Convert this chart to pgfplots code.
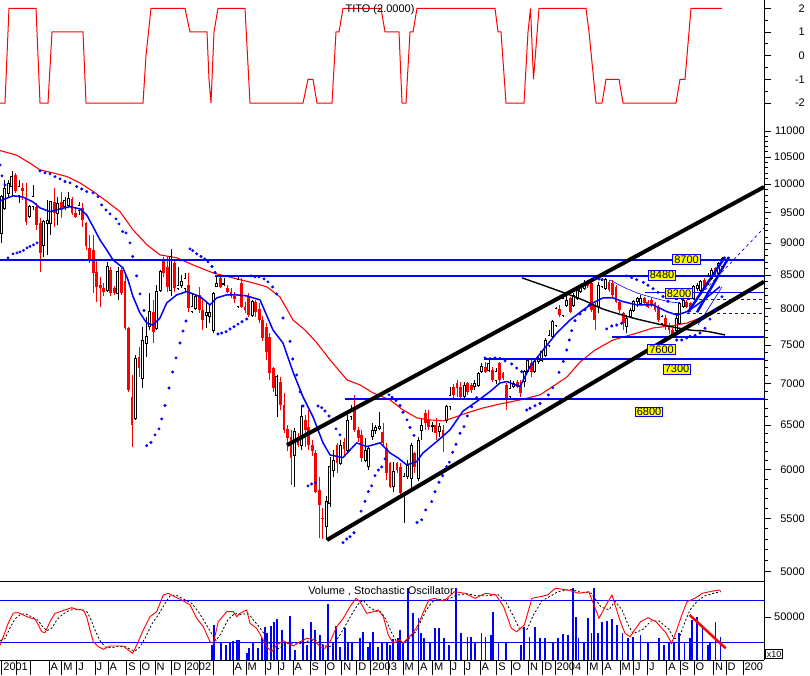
\documentclass[border=0pt]{standalone}
\usepackage{fontspec}
\setmainfont{Liberation Sans}
\usepackage{pgfplots}
\usepackage{pgfplotstable}
\pgfplotsset{compat=1.18}
\definecolor{pblue}{RGB}{0,0,255}
\definecolor{pred}{RGB}{255,0,0}
\definecolor{pyel}{RGB}{255,255,0}
\pgfplotsset{
  panel/.style={scale only axis, width=764pt, xmin=0, xmax=764,
    axis y line*=right, axis line style={black, line width=0.8pt},
    tick style={black, line width=0.8pt}, major tick length=7pt, minor tick length=4pt,
    tick align=outside, scaled y ticks=false,
    yticklabel style={font=\fontsize{11}{12}\selectfont, anchor=east, inner sep=0pt, xshift=34pt},
    /pgf/number format/assume math mode=true, /pgf/number format/1000 sep={}},
}
% up (hollow) weekly candles: week index, open, high, low, close
\pgfplotstableread{
i o h l c
0 9160 9810 9000 9780
1 9580 10080 9550 9930
2 9840 10080 9780 10020
3 9960 10230 9780 10140
5 9810 10080 9665 9960
8 9440 9640 9410 9610
9 9608 9988 9550 9781
12 8972 9382 8786 9354
13 9326 9723 8812 9382
14 9326 9700 9134 9694
16 9494 9781 9298 9665
18 9608 9781 9550 9723
19 9637 9869 9608 9752
22 9550 9694 9466 9637
30 8278 8708 8253 8630
33 8228 8630 8131 8553
38 6579 7367 6559 7324
40 7067 7751 6942 7569
41 7524 7893 7346 7614
42 7751 8228 7706 7962
44 7728 8352 7706 8253
45 8278 8579 8253 8553
48 8278 8902 8180 8786
50 8302 8630 8278 8352
51 8352 8500 8300 8400
52 8302 8528 8253 8452
54 7962 8228 7938 8034
55 8010 8204 7986 8180
58 7914 8106 7728 7948
59 7900 8050 7800 7960
60 7706 8253 7660 8228
61 8327 8502 8327 8377
63 8367 8460 8330 8380
67 8034 8502 8010 8428
71 7914 8130 7890 8106
78 6860 7110 6599 7088
83 6161 6462 5822 6424
85 6273 6738 6217 6607
92 5420 5719 5293 5668
93 5651 6143 5617 6034
94 5998 6217 5927 6106
96 6070 6329 6052 6272
98 6217 6618 6180 6560
99 6599 6738 6560 6658
103 6106 6348 6088 6217
104 6034 6254 5998 6236
105 6367 6521 6329 6443
106 6443 6500 6400 6470
107 6463 6658 6443 6482
111 5822 6088 5770 5980
114 5753 5962 5453 5927
115 5927 6100 5900 6050
116 5910 6291 5805 6273
118 5910 6367 5875 6329
119 6443 6579 6329 6502
122 6482 6540 6420 6500
124 6424 6521 6367 6482
126 6560 6738 6521 6718
127 6718 6963 6678 6860
131 6839 7025 6819 6983
134 6963 7046 6921 7004
135 6983 7152 6963 7131
136 7152 7259 7131 7216
138 7173 7303 7152 7259
140 7046 7200 7000 7150
144 6839 7046 6819 6942
145 6963 7030 6940 7004
148 7025 7173 6963 7151
149 7151 7330 7130 7303
151 7151 7325 7130 7281
152 7281 7350 7250 7320
153 7303 7434 7281 7412
154 7368 7590 7346 7569
155 7501 7705 7479 7636
156 7614 7844 7591 7821
157 7775 8033 7751 8009
159 7914 8179 7891 8155
160 8057 8204 8033 8130
162 8057 8228 8033 8204
163 8155 8326 8130 8277
164 8252 8350 8228 8326
165 8301 8426 8277 8376
169 8033 8400 7950 8351
170 8326 8450 8300 8426
171 8301 8452 8277 8437
177 7751 7914 7659 7867
178 7891 8009 7867 7986
179 7986 8130 7962 8106
180 8106 8179 8033 8155
181 8082 8200 8060 8155
187 7798 7914 7775 7891
191 7705 7914 7659 7867
192 7798 8106 7775 8082
193 8033 8155 8009 8130
196 8155 8350 8130 8326
197 8300 8380 8260 8350
198 8277 8426 8252 8401
200 8376 8527 8350 8502
201 8452 8604 8427 8578
203 8527 8707 8502 8681
204 8630 8785 8604 8759
}\upc
% down (red) weekly candles
\pgfplotstableread{
i o h l c
4 10170 10200 9840 9870
6 9930 10020 9720 9870
7 9750 10020 9300 9350
10 9608 9665 9215 9298
11 9326 9410 8553 8839
15 9694 9928 9270 9494
17 9694 9869 9410 9550
20 9740 9781 9466 9494
21 9494 9608 9410 9438
23 9579 9665 9270 9382
24 9326 9340 8892 8945
25 8918 9134 8682 8733
26 8892 9134 8228 8528
27 8553 8733 8106 8327
28 8352 8477 8034 8302
29 8302 8377 8180 8253
31 8579 8630 8180 8228
32 8302 8330 8200 8228
34 8579 8605 8204 8228
35 8404 8502 7706 7728
36 7728 7751 6900 6921
37 6839 7109 6254 6501
39 7346 7480 7088 7195
43 7962 8130 7524 7683
46 8733 8786 8477 8528
47 8630 8786 8253 8327
49 8682 8733 8253 8302
53 8352 8528 7962 8010
56 8204 8327 7938 7986
57 7986 8130 7706 7844
62 8452 8502 8302 8327
64 8302 8352 8228 8253
65 8253 8302 8155 8180
66 8180 8250 8080 8140
68 8377 8452 8010 8034
69 8034 8100 7940 7990
70 8180 8228 7890 7914
72 8106 8130 7890 7962
73 8000 8080 7800 7850
74 7850 7900 7550 7600
75 7750 7800 7303 7412
76 7613 7659 7046 7131
77 7195 7216 6900 6942
79 7025 7088 6678 6738
80 6738 6880 6405 6443
81 6450 6500 6200 6350
82 6367 6443 5840 6125
84 6367 6405 6254 6273
86 6560 6618 6254 6443
87 6482 6678 6217 6273
88 6270 6330 6150 6200
89 6180 6217 5753 5770
90 5787 5927 5308 5634
91 5500 5600 5300 5490
95 6272 6291 5962 6070
97 6300 6350 6150 6230
100 6678 6860 6424 6443
101 6440 6480 6300 6350
102 6386 6443 6088 6125
108 6424 6521 6254 6291
109 6236 6291 5892 5962
110 6070 6088 5805 5822
112 6070 6088 5962 5998
113 6034 6070 5736 5753
117 6180 6198 5962 6034
120 6638 6678 6443 6521
121 6560 6678 6443 6482
123 6502 6579 6329 6405
125 6443 6502 6198 6348
128 6963 7000 6820 6860
129 7004 7046 6839 6942
130 6963 7025 6799 6839
132 7004 7025 6860 6900
133 6983 7004 6880 6921
137 7216 7281 7131 7152
139 7173 7216 7025 7046
141 7259 7281 7025 7046
142 7130 7150 7046 7067
143 6983 7004 6678 6819
146 7025 7046 6940 6963
147 6983 7046 6839 6880
150 7259 7303 7088 7151
158 8000 8050 7890 7920
161 8155 8179 7938 7962
166 8376 8420 8300 8340
167 8376 8426 7962 7986
168 8057 8082 7705 7844
172 8401 8426 8250 8277
173 8376 8426 8155 8204
174 8326 8350 8082 8106
175 8100 8130 7950 7990
176 7938 7962 7705 7798
182 8155 8179 8057 8082
183 8106 8130 8009 8033
184 8130 8155 8033 8057
185 8082 8106 7962 7986
186 8033 8057 7821 7844
188 7867 7914 7705 7751
189 7751 7800 7650 7700
190 7705 7730 7600 7636
194 8106 8130 8009 8033
195 8082 8106 7962 7986
199 8426 8450 8300 8326
202 8604 8630 8477 8502
}\dnc
\pgfplotstableread{
x k
0 15.7
3.3 27.6
8.3 47.1
13.3 61.4
18.3 61.9
23.3 58.6
30 54.3
35 52.9
38.3 44.3
41.7 34.7
45 33.3
50 49
55 61
60 63.3
66.7 66.7
71.7 69
76.7 66.7
83.3 65.7
86.7 56.1
90 37.1
93.3 20.4
98.3 13.3
103.3 9.6
110 14.3
116.7 14.3
123.3 14.3
128.3 8.6
132.7 3.9
136.7 15.7
143.3 37.1
150 56.1
156.7 63.3
163.3 87.1
168.3 89.6
173.3 85.7
181.7 80
190 72.9
196.7 53.9
203.3 41.9
210 20.4
213.3 18.1
218.3 49
226.7 63.3
233.3 63.3
236.7 56.1
240 61
246.7 65.7
250 46.7
256.7 39.6
263.3 22.9
266.7 13.3
271.7 6.1
276.7 15.7
283.3 21.9
293.3 14.3
300 20.4
306.7 25.3
313.3 23.9
320 13.3
325 11
330 20.4
336.7 41.9
343.3 53.9
350 70.4
356 82.4
360 77.6
366.7 61
373.3 63.3
378.3 65.7
383.3 56.1
388.3 30
393.3 18.1
400 22.9
403 18.6
413 32.9
418 44.3
423.6 63.3
428.7 80
434 82.4
444 78.6
454.5 91.9
465 89.6
475 82.4
485.5 89.6
496 87.1
503.6 70.4
511.4 39.6
516.5 34.7
524.3 44.3
532 82.4
539.8 84.7
547.5 87.1
555.3 96.7
568 94.3
578.5 89.6
588.8 91.9
599 53.9
607 75.3
612 87.1
619.8 51.4
625 32.4
630 27.6
640.5 49
648 54.7
656 49
666.3 32.4
671.5 18.1
676.7 37.1
681.8 58.6
687 77.6
694.7 82.4
702.5 89.6
712.8 92.9
720.5 94.3
}\stochk
\pgfplotstableread{
x d
0 22
5 25
10 40
15 53
21 60
26 60
33 55
38 51
42 43
47 36
52 40
57 52
63 60
69 65
75 67
81 66
87 63
91 52
95 37
100 22
105 13
112 12
119 14
126 13
131 9
135 7
140 13
146 28
152 46
158 58
165 75
170 86
176 87
184 81
192 75
199 62
205 48
212 31
216 22
221 32
228 52
235 61
239 59
243 60
249 60
253 52
259 42
266 28
270 17
274 10
280 11
286 18
295 17
303 18
309 22
316 22
323 16
328 13
333 15
339 28
346 45
352 60
358 74
363 80
369 70
376 64
381 63
386 52
391 35
396 22
404 19
409 25
416 35
421 50
426 65
432 77
438 81
446 80
457 87
467 89
477 86
488 86
498 88
506 77
514 55
519 40
527 38
534 60
542 79
550 85
558 92
571 95
581 91
591 90
601 70
609 66
615 78
622 66
628 45
633 32
643 38
651 50
659 50
669 38
674 25
679 25
684 45
690 66
697 78
705 86
715 90
721 92
}\stochd
\pgfplotstableread{
x v
211.7 17442
214 40698
220.7 20116
225.7 17442
230 21279
233.3 22093
237.3 23256
239.3 23256
246.7 8488
249.3 13954
253.3 19419
258.3 13605
261.7 25233
265 38721
266.7 31048
270.7 39535
274.3 44535
277.3 47675
281.7 34884
285 19419
290 51163
295 11628
303.3 35698
306.7 17442
310.7 44535
315 34884
320 29070
322.7 17442
327.7 65117
333.3 19419
336 39535
340 15465
345 36861
348.3 21279
351.7 19419
360 25233
363.3 32907
367.7 15465
370 19419
373.3 32907
378.3 15465
381.7 21279
386.7 19419
390 17442
393.3 24070
398.3 25233
400.3 34884
403 21279
408 83372
413 54303
418.4 49186
421 31048
423.6 25233
430 21279
435 37559
439 37559
444 25233
449 17442
455.6 83372
461.3 31048
467.5 27093
471 27093
475.2 19419
481.4 31048
485.5 27093
490.7 29070
493.3 56163
498.5 21279
506 21279
520.7 17442
524.3 38721
529.4 27093
534.6 38721
539.8 25233
545 25233
552.7 21279
558 25233
563 29884
568.2 29070
573.3 83372
576 50349
578.5 25233
583.7 21279
587.8 49186
591.4 31048
594 84070
598 31048
601.8 44535
607 45349
612 47675
617.3 40698
622.4 31048
627.6 25233
632.7 27093
640.5 29070
648.2 19419
658.6 25233
663.7 17442
669 21279
674 21279
679.2 31048
684.4 21279
689.6 25233
692 46512
697.3 50349
702.5 40698
707.6 17442
710.2 21279
715.4 44535
720.5 27093
}\volume
\begin{document}
\begin{tikzpicture}[x=1pt,y=1pt]
\path[use as bounding box] (0,0) rectangle (810,675);
% ---------------- TITO panel
\begin{axis}[panel, at={(0pt,567pt)}, anchor=south west, height=108pt,
  ymin=-2.211, ymax=2.351, axis x line=none,
  ytick={-2,-1,0,1,2}, minor ytick={-1.5,-0.5,0.5,1.5}]
\addplot[pred, line width=1pt] coordinates {(0,-2) (5,-2) (9,2) (36,2) (40,-2) (48,-2) (52,1) (83,1) (86,-2) (143,-2) (146,0) (151,2) (185,2) (190,1) (207,1) (209,-1) (211,-2) (214,1) (218,2) (245,2) (250,-2) (303,-2) (308,-1) (313,-1) (317,-2) (332,-2) (336,1) (339,1) (343,2) (381,2) (385,1) (399,1) (402,-2) (406,-2) (410,1) (413,1) (417,2) (495,2) (498,1) (501,1) (506,-2) (524,-2) (528,1) (530.5,2) (533.5,-1) (539,2) (586,2) (589,1) (596,-2) (602,-2) (606,-1) (619,-1) (623,-2) (676,-2) (680,-1) (685,-1) (691,2) (722,2)};
\node[font=\fontsize{11}{12}\selectfont, inner sep=0pt] at (axis cs:380,1.93) {TITO (2.0000)};
\end{axis}
% ---------------- Price panel
\begin{axis}[panel, at={(0pt,94pt)}, anchor=south west, height=473pt,
  ymode=log, ymin=4917, ymax=11462, axis x line*=bottom, xtick=\empty,
  ytick={5000,5500,6000,6500,7000,7500,8000,8500,9000,9500,10000,10500,11000},
  yticklabels={5000,5500,6000,6500,7000,7500,8000,8500,9000,9500,10000,10500,11000},
  minor ytick={5100,5200,...,11000}]
% red candles: wicks and bodies
\addplot[draw=none, mark=none, forget plot, error bars/.cd, y dir=plus, y explicit, error mark=none,
  error bar style={pred, line width=0.7pt}]
  table[x expr={1.3+3.533*\thisrow{i}}, y=l, y error plus expr={\thisrow{h}-\thisrow{l}}] {\dnc};
\addplot[draw=none, mark=none, forget plot, error bars/.cd, y dir=plus, y explicit, error mark=none,
  error bar style={pred, line width=2.8pt}]
  table[x expr={1.3+3.533*\thisrow{i}}, y=c, y error plus expr={\thisrow{o}-\thisrow{c}}] {\dnc};
% hollow candles
\addplot[draw=none, mark=none, forget plot, error bars/.cd, y dir=plus, y explicit, error mark=none,
  error bar style={black, line width=0.7pt}]
  table[x expr={1.3+3.533*\thisrow{i}}, y=l, y error plus expr={\thisrow{h}-\thisrow{l}}] {\upc};
\addplot[draw=none, mark=none, forget plot, error bars/.cd, y dir=plus, y explicit, error mark=none,
  error bar style={black, line width=2.8pt}]
  table[x expr={1.3+3.533*\thisrow{i}}, y=o, y error plus expr={\thisrow{c}-\thisrow{o}}] {\upc};
\addplot[draw=none, mark=none, forget plot, error bars/.cd, y dir=plus, y explicit, error mark=none,
  error bar style={white, line width=1.2pt}]
  table[x expr={1.3+3.533*\thisrow{i}}, y=o, y error plus expr={\thisrow{c}-\thisrow{o}}] {\upc};
\addplot[only marks, mark=-, mark size=1.4pt, mark options={black, line width=0.6pt}]
  table[x expr={1.3+3.533*\thisrow{i}}, y=o] {\upc};
\addplot[only marks, mark=-, mark size=1.4pt, mark options={black, line width=0.6pt}]
  table[x expr={1.3+3.533*\thisrow{i}}, y=c] {\upc};
% long moving average (red)
\addplot[pred, line width=1.1pt] coordinates {(0,10621) (16.7,10532) (30,10382) (40,10259) (53,10204) (67,10137) (80,10023) (93,9872) (107,9693) (120,9521) (133,9215) (147,8971) (160,8812) (177,8765) (193,8655) (213,8532) (233,8456) (253,8381) (267,8321) (280,8173) (293,7843) (305,7704) (317,7527) (330,7302) (347,7046) (360,6983) (373,6884) (390,6798) (403,6677) (417,6583) (430,6559) (443,6547) (453,6583) (467,6642) (483,6701) (500,6749) (520,6798) (540,6859) (555,6983) (567,7084) (580,7276) (595,7433) (613,7568) (637,7663) (653,7732) (670,7760) (687,7801) (700,7871) (712,7956) (725,8042)};
% short moving average (blue)
\addplot[pblue, line width=1.5pt] coordinates {(0,9707) (13,9794) (23,9772) (33,9688) (40,9584) (50,9521) (60,9567) (70,9606) (80,9567) (86.7,9465) (93,9270) (100,9051) (106.7,8891) (113,8733) (123,8609) (128,8426) (133,8179) (140,7942) (146.7,7801) (153,7773) (160,7871) (166.7,8086) (176.7,8203) (186.7,8252) (200,8179) (210,8057) (216.7,8159) (226.7,8203) (236.7,8203) (246.7,8188) (260,8130) (273,7704) (283,7527) (293,7147) (303,6835) (313,6595) (323,6295) (330,6161) (343,6131) (350,6216) (356.7,6295) (366.7,6253) (380,6295) (390,6183) (398,6128) (406.7,6052) (416.7,6088) (423,6183) (436.7,6310) (450,6443) (463,6664) (476.7,6778) (490,6900) (500,7008) (507,7025) (520,6962) (530,7216) (543,7433) (556.7,7663) (570,7843) (583,7985) (593,8086) (603,8159) (613,8159) (623,8105) (637,8057) (653,8057) (667,7961) (677,7914) (687,7961) (697,8057) (710,8203) (720,8326)};
% thin upper band (2004)
\addplot[pblue, line width=0.6pt, smooth] coordinates {(610,8426) (623,8321) (637,8233) (650,8174) (670,8101) (680,8090)};
% parabolic SAR
\addplot[only marks, mark=*, mark size=1.3pt, pblue] coordinates {
(0,10350) (2,10150) (5,9987)
(8,8765) (13,8828) (17,8844) (20,8860) (23.5,8883) (27,8923) (30,8947) (33.5,8971) (37,9003)
(40,10240) (45,10204) (50,10186) (55,10136) (60,10095) (65,10047) (70,10023) (76.7,9957) (81.7,9916) (86.7,9868) (93,9845) (98,9780) (101.7,9636) (106,9550) (110,9482) (116,9398) (119,9314) (122.7,9187) (126,9165) (130,9003) (132.7,8786) (136.7,8487) (140,8218) (144,7980)
(146.7,6264) (151,6300) (155,6386) (159,6455) (161.7,6571) (165,6731) (169,6945) (172.7,7147) (176,7330) (180,7527) (183,7690) (186,7829)
(190,8907) (192.7,8880) (196.7,8828) (201,8786) (204.7,8749) (208,8702) (212,8630) (215,8538)
(218,7650) (221.7,7663) (226,7681) (230,7718) (234,7750) (238,7787) (242,7819) (246.7,7857)
(251,8487) (255,8472) (259,8472) (264,8441) (268,8396) (272.7,8321) (276.7,8218) (283,7871) (290,7550) (292.7,7315) (296.7,7109) (300,6896) (303,6725)
(308,5829) (311.7,5849) (315.7,5863)
(318,6725) (321.7,6705) (325,6665) (329,6606) (336,6455) (340,6386)
(343,5266) (346.7,5300) (350,5322) (354,5360) (361,5571) (365,5670) (368.3,5770) (371.7,5829) (375,5937) (378.3,5996) (381.7,6030) (385,6117)
(389,6860) (392,6830) (396,6790) (400,6730) (403,6650) (407,6560) (410,6470) (414,6380)
(417,5459) (421.7,5485) (425.7,5584) (431.7,5667) (435,5768) (439,5867) (442.7,5936) (446.7,6034) (449.3,6081) (452.7,6191) (456,6279) (460,6405) (464,6481) (467.3,6606) (471.7,6715) (476.7,6825)
(485,7330) (490,7320) (495,7330) (500,7321) (505,7290) (511.7,7250) (516.7,7197) (521.7,7151)
(526.7,6677) (530,6697) (535,6728) (540,6755) (548.3,6859) (552.7,6949) (559,7142) (563.3,7283) (566.7,7433) (569.3,7568) (571.7,7696) (575,7833) (580,7928) (585,7990) (589,8050)
(595,8450) (599,8440) (602,8430)
(606.7,7719) (611.7,7760) (616.7,7773) (621.7,7799)
(626.7,8487) (631.7,8460) (636.7,8430) (643.3,8390) (648,8345) (653,8295) (658,8240) (663,8180) (668,8110)
(676.7,7568) (681.7,7568) (686.7,7594) (690,7620) (695,7631) (700,7663) (705,7730) (710,7856) (715,7990) (722,8175)};
% horizontal levels
\addplot[pblue, line width=2.2pt] coordinates {(0,8733) (764,8733)};
\addplot[pblue, line width=2.2pt] coordinates {(215,8491) (764,8491)};
\addplot[pblue, line width=0.8pt] coordinates {(645,8233) (764,8233)};
\addplot[pblue, line width=0.7pt, dash pattern=on 3pt off 3pt] coordinates {(675,8143) (764,8143)};
\addplot[pblue, line width=0.7pt, dash pattern=on 3pt off 3pt] coordinates {(675,7942) (764,7942)};
\addplot[pblue, line width=2.2pt] coordinates {(612,7610) (764,7610)};
\addplot[pblue, line width=2.2pt] coordinates {(484,7320) (764,7320)};
\addplot[pblue, line width=2.2pt] coordinates {(345,6805) (764,6805)};
% black arc
\addplot[black, line width=1.4pt, smooth] coordinates {(522,8457) (545,8336) (567,8218) (585,8116) (603,7999) (633,7871) (663,7773) (690,7704) (705,7690) (725,7636)};
% channel
\addplot[black, line width=4pt] coordinates {(287,6270) (764,9950)};
\addplot[black, line width=4pt] coordinates {(327,5291) (764,8400)};
% arrows and projections
\addplot[pblue, line width=2.5pt] coordinates {(688,7952) (725,8780)};
\addplot[pblue, line width=2.5pt] coordinates {(697,7952) (729,8780)};
\addplot[pblue, line width=0.6pt] coordinates {(698,7773) (722,8321)};
\addplot[pblue, line width=0.7pt, dash pattern=on 3pt off 3pt] coordinates {(705,8277) (764,9248)};
% level labels
\tikzset{lvl/.style={fill=pyel, draw=pblue, line width=0.8pt, inner xsep=1.5pt, inner ysep=1pt, font=\fontsize{11}{12}\selectfont}}
\node[lvl] at (axis cs:686.5,8741) {8700};
\node[lvl] at (axis cs:662,8499) {8480};
\node[lvl] at (axis cs:679,8226) {8200};
\node[lvl] at (axis cs:661.5,7440) {7600};
\node[lvl] at (axis cs:677,7185) {7300};
\node[lvl] at (axis cs:649,6654) {6800};
\end{axis}
% ---------------- Volume (bottom panel, bars)
\begin{axis}[panel, at={(0pt,15pt)}, anchor=south west, height=79pt,
  ymin=0, ymax=91860, axis x line=none, ytick={50000}, yticklabels={50000}]
\addplot[pblue, ycomb, line width=1.8pt] table[x=x, y=v] {\volume};
\end{axis}
% ---------------- Stochastic (bottom panel)
\begin{axis}[panel, at={(0pt,15pt)}, anchor=south west, height=79pt, clip=false,
  ymin=-5.71, ymax=107.14, axis x line*=bottom, ytick=\empty,
  xtick={1.7,16,30.7,49,61.7,76.7,95,108,126.7,140,155,171.7,185,199,213,233,246,265,278,293,310,325,341.7,356.7,370.7,388,403,418.3,432.3,450,464,480,496.7,511,528.3,542.7,555,572,587.7,602.7,620,633.3,647.3,666.7,680,694,713.3,726,743},
  xticklabels={2001,,,A,M,J,J,A,S,O,N,D,2002,,,A,M,J,J,A,S,O,N,D,2003,,M,A,M,J,J,A,S,O,N,D,2004,,M,A,M,J,J,A,S,O,N,D,200},
  major tick length=15pt,
  xticklabel style={font=\fontsize{11}{12}\selectfont, anchor=north west, inner sep=0pt, xshift=1.5pt, yshift=12pt}]
\addplot[pblue, line width=0.9pt] coordinates {(0,80) (764,80)};
\addplot[pblue, line width=0.9pt] coordinates {(0,20) (764,20)};
\addplot[black, line width=0.8pt, dash pattern=on 2pt off 2pt] table[x=x, y=d] {\stochd};
\addplot[pred, line width=0.9pt] table[x=x, y=k] {\stochk};
\addplot[pred, line width=2.5pt] coordinates {(689.6,58.6) (725.7,11)};
\node[font=\fontsize{11}{12}\selectfont, inner sep=0pt] at (axis cs:381,92.9) {Volume , Stochastic Oscillator};
\node[draw=black, line width=0.6pt, font=\fontsize{9}{10}\selectfont, inner sep=1pt] at (axis cs:774,3) {x10};
\end{axis}
\end{tikzpicture}
\end{document}
